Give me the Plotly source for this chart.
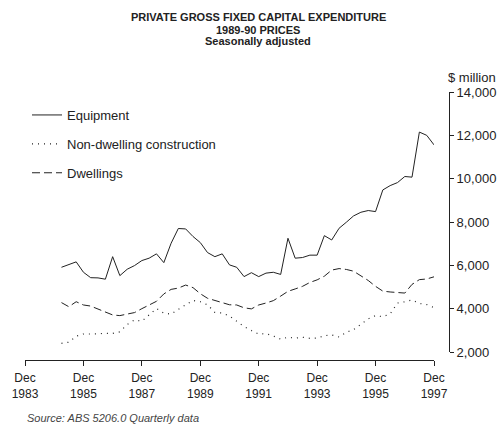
import plotly.graph_objects as go

# Quarters: Mar 1985 .. Dec 1997 (quarter-end months)
quarters = [f"{y}-{m:02d}-01" for y in range(1985, 1998) for m in (3, 6, 9, 12)]

equipment = [5910, 6040, 6160, 5680, 5430, 5420, 5360, 6400, 5525, 5820,
             5990, 6220, 6330, 6530, 6125, 7020, 7700, 7680, 7330, 7050,
             6590, 6400, 6530, 6020, 5910, 5480, 5660, 5480, 5640, 5680,
             5580, 7250, 6330, 6360, 6470, 6470, 7370, 7170, 7710, 7990,
             8280, 8450, 8530, 8480, 9480, 9680, 9820, 10100, 10070, 12150,
             12000, 11560]
non_dwelling = [2400, 2450, 2730, 2830, 2830, 2860, 2860, 2860, 2930, 3270,
                3480, 3420, 3720, 4010, 3790, 3750, 3970, 4190, 4380, 4320,
                4180, 3830, 3800, 3660, 3400, 3170, 2990, 2830, 2850, 2740,
                2590, 2680, 2640, 2680, 2630, 2640, 2750, 2790, 2690, 2910,
                3030, 3270, 3530, 3680, 3630, 3760, 4260, 4320, 4400, 4240,
                4190, 4050]
dwellings = [4280, 4090, 4320, 4170, 4120, 3990, 3860, 3710, 3680, 3750,
             3820, 4000, 4170, 4340, 4680, 4890, 4950, 5090, 4970, 4690,
             4480, 4390, 4280, 4180, 4170, 4040, 3990, 4170, 4260, 4370,
             4580, 4800, 4910, 5030, 5210, 5330, 5500, 5780, 5850, 5810,
             5730, 5500, 5300, 5030, 4810, 4770, 4760, 4720, 5120, 5340,
             5370, 5470]

title_lines = ["PRIVATE GROSS FIXED CAPITAL EXPENDITURE", "1989-90 PRICES",
               "Seasonally adjusted"]
tick_dates = [f"{y}-12-01" for y in range(1983, 1998, 2)]
tick_text = [f"Dec<br>{y}" for y in range(1983, 1998, 2)]
y_ticks = [2000, 4000, 6000, 8000, 10000, 12000, 14000]

INK = "#222222"
FONT = "Liberation Sans, Arial, sans-serif"

# pixel helpers (plot paper: x 25..449, y 92..360)
def px_x(p):
    return (p - 25) / 424

def px_y(p):
    return (360 - p) / 268

fig = go.Figure()
fig.add_trace(go.Scatter(x=quarters, y=equipment, mode="lines", name="Equipment",
                         legendgroup="a",
                         line=dict(color=INK, width=1)))
fig.add_trace(go.Scatter(x=quarters, y=non_dwelling, mode="lines",
                         name="Non-dwelling construction", legendgroup="b",
                         line=dict(color=INK, width=1.2, dash="1px,5px")))
fig.add_trace(go.Scatter(x=quarters, y=dwellings, mode="lines", name="Dwellings",
                         legendgroup="c",
                         line=dict(color=INK, width=1, dash="8px,4px")))

annotations = []
for i, (t, yp) in enumerate(zip(title_lines, [17.5, 29.5, 41.5])):
    annotations.append(dict(text=f"<b>{t}</b>", xref="paper", yref="paper",
                            x=px_x(258), y=px_y(yp), xanchor="center", yanchor="middle",
                            showarrow=False, font=dict(family=FONT, size=11, color=INK)))
annotations += [
    dict(text="$ million", xref="paper", yref="paper", x=1, y=px_y(78),
         xanchor="left", yanchor="middle", showarrow=False, xshift=-3,
         font=dict(family=FONT, size=13, color=INK)),
    dict(text="<i>Source: ABS 5206.0 Quarterly data</i>", xref="paper", yref="paper",
         x=0, y=px_y(418.5), xanchor="left", yanchor="middle", showarrow=False,
         font=dict(family=FONT, size=11, color="#444444")),
]

fig.update_layout(
    width=501, height=424, autosize=False,
    margin=dict(l=25, r=52, t=92, b=64, autoexpand=False),
    paper_bgcolor="white", plot_bgcolor="white",
    font=dict(family=FONT, size=12, color=INK),
    showlegend=True,
    legend=dict(x=px_x(27), y=px_y(100), xanchor="left", yanchor="top",
                bgcolor="rgba(0,0,0,0)", tracegroupgap=9,
                font=dict(family=FONT, size=13, color=INK)),
    xaxis=dict(type="date", domain=[0, 409 / 424],
               range=["1983-12-01", "1997-12-01"],
               anchor="free", position=0, automargin=False,
               tickmode="array", tickvals=tick_dates, ticktext=tick_text,
               ticks="outside", ticklen=5, tickcolor=INK,
               ticklabelstandoff=2,
               showline=True, linecolor=INK, linewidth=1,
               showgrid=False, zeroline=False,
               tickfont=dict(family=FONT, size=12, color=INK)),
    yaxis=dict(domain=[8 / 268, 1], range=[2000, 14000], side="right",
               anchor="free", position=1, automargin=False,
               tickmode="array", tickvals=y_ticks, tickformat=",d",
               ticks="outside", ticklen=4, tickcolor=INK,
               showline=True, linecolor=INK, linewidth=1,
               showgrid=False, zeroline=False,
               tickfont=dict(family=FONT, size=13, color=INK)),
    annotations=annotations,
)

fig.write_html(
    "out.html",
    config={"displayModeBar": False, "responsive": False},
    post_script="document.body.style.margin='0';document.body.style.overflow='hidden';",
)
